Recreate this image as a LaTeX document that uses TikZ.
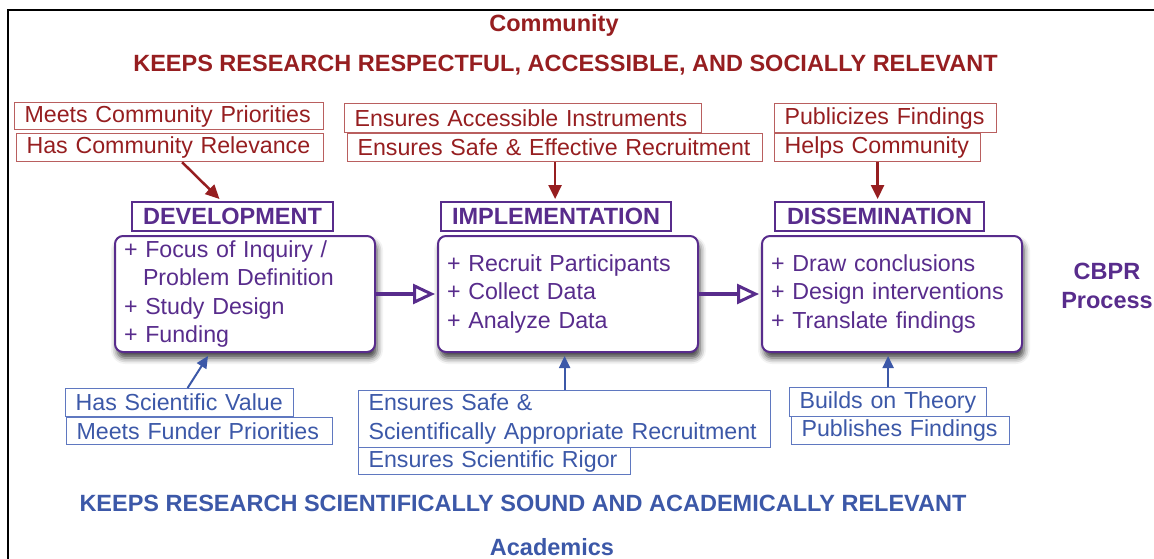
\documentclass[tikz,border=0pt]{standalone}
\usepackage{fontspec}
\setmainfont{Liberation Sans}
\usetikzlibrary{arrows.meta,calc,shadows.blur}
\definecolor{cred}{RGB}{150,30,32}
\definecolor{credb}{RGB}{185,95,95}
\definecolor{cpur}{RGB}{88,44,140}
\definecolor{cblue}{RGB}{60,88,168}
\definecolor{cblueb}{RGB}{95,120,192}
\newcommand{\bodyfnt}{\fontsize{23.2}{28.5}\selectfont}
\newcommand{\boldfnt}{\fontsize{23.5}{28.5}\selectfont\bfseries}
\hbadness=10000 \hfuzz=100pt
\begin{document}
\begin{tikzpicture}[x=1pt,y=-1pt,
  rbox/.style={draw=credb, line width=1.2pt, text=cred, font=\bodyfnt, align=left, inner xsep=10pt, inner ysep=0pt, anchor=north west},
  bbox/.style={draw=cblueb, line width=1.2pt, text=cblue, font=\bodyfnt, align=left, inner xsep=10pt, inner ysep=0pt, anchor=north west},
  hbox/.style={draw=cpur, line width=2pt, text=cpur, font=\boldfnt, inner sep=0pt, anchor=north west},
  mbox/.style={draw=cpur, line width=2pt, rounded corners=8pt, fill=white, text=cpur, font=\bodyfnt, align=left, inner xsep=9pt, inner ysep=0pt, minimum height=116pt, text width=242pt, anchor=north west, blur shadow={shadow xshift=2pt, shadow yshift=-6pt, shadow blur radius=6pt, shadow opacity=75}},
  rarrow/.style={draw=cred, line width=2.5pt, -{Triangle[length=14pt, width=13pt]}},
  barrow/.style={draw=cblue, line width=2pt, -{Triangle[length=12pt, width=11pt]}},
  flow/.style={draw=cpur, line width=4pt, -{Triangle[open, length=22pt, width=20pt, line width=3pt]}},
  rtitle/.style={text=cred, font=\boldfnt},
  btitle/.style={text=cblue, font=\boldfnt}
]
\useasboundingbox (0,0) rectangle (1154,559);
\draw[line width=2pt] (8,560) -- (8,10) -- (1156,10);

\node[rtitle] (comm) at (554,25) {Community};
\node[rtitle] (keep1) at (565.5,65) {KEEPS RESEARCH RESPECTFUL, ACCESSIBLE, AND SOCIALLY RELEVANT};
\node[btitle] (keep2) at (523,503) {KEEPS RESEARCH SCIENTIFICALLY SOUND AND ACADEMICALLY RELEVANT};
\node[btitle] (acad) at (552,547) {Academics};
\node[text=cpur, font=\boldfnt, align=center] (cbpr) at (1107,286) {CBPR\\Process};

% red boxes
\node[rbox, text width=289pt, minimum height=27pt] (R1) at (14,102) {\mbox{Meets Community Priorities}};
\node[rbox, text width=287pt, minimum height=28pt] (R2) at (16,133) {\mbox{Has Community Relevance}};
\node[rbox, text width=337pt, minimum height=29pt] (R3) at (344,103) {\mbox{Ensures Accessible Instruments}};
\node[rbox, text width=395pt, minimum height=28pt] (R4) at (347,133) {\mbox{Ensures Safe \& Effective Recruitment}};
\node[rbox, text width=202pt, minimum height=29pt] (R5) at (774,103) {\mbox{Publicizes Findings}};
\node[rbox, text width=186pt, minimum height=28pt] (R6) at (774,133) {\mbox{Helps Community}};

% headers
\node[hbox, minimum width=201pt, minimum height=29pt] (devh) at (131,201) {DEVELOPMENT};
\node[hbox, minimum width=230pt, minimum height=29pt] (implh) at (440,201) {IMPLEMENTATION};
\node[hbox, minimum width=209pt, minimum height=29pt] (dissh) at (774,201) {DISSEMINATION};

% main boxes
\node[mbox] (dev) at (114,235) {\mbox{+ Focus of Inquiry /}\\\mbox{\hspace{19pt}Problem Definition}\\\mbox{+ Study Design}\\\mbox{+ Funding}};
\node[mbox] (impl) at (437,235) {\mbox{+ Recruit Participants}\\\mbox{+ Collect Data}\\\mbox{+ Analyze Data}};
\node[mbox] (diss) at (761,235) {\mbox{+ Draw conclusions}\\\mbox{+ Design interventions}\\\mbox{+ Translate findings}};

% blue boxes
\node[bbox, text width=208pt, minimum height=28pt] (B1) at (65,388) {\mbox{Has Scientific Value}};
\node[bbox, text width=246pt, minimum height=27pt] (B2) at (66,417) {\mbox{Meets Funder Priorities}};
\node[bbox, text width=392pt, minimum height=57pt] (B3) at (358,390) {\mbox{Ensures Safe \&}\\\mbox{Scientifically Appropriate Recruitment}};
\node[bbox, text width=252pt, minimum height=27pt] (B4) at (358,447) {\mbox{Ensures Scientific Rigor}};
\node[bbox, text width=177pt, minimum height=29pt] (B5) at (789,387) {\mbox{Builds on Theory}};
\node[bbox, text width=198pt, minimum height=28pt] (B6) at (791,416) {\mbox{Publishes Findings}};

% arrows
\draw[rarrow] ($(R2.south)+(12,0)$) -- ($(devh.north)+(-13,-2)$);
\draw[rarrow] (R4.south) -- ($(R4.south |- implh.north)+(0,-2)$);
\draw[rarrow] (R6.south) -- ($(R6.south |- dissh.north)+(0,-2)$);
\draw[barrow] ($(B1.north)+(8,0)$) -- ($(dev.south)+(-37,3)$);
\draw[barrow] (B3.north) -- ($(B3.north |- impl.south)+(0,3)$);
\draw[barrow] (B5.north) -- ($(B5.north |- diss.south)+(0,3)$);
\draw[flow] (dev.east) -- ($(impl.west)+(-2,0)$);
\draw[flow] (impl.east) -- ($(diss.west)+(-2,0)$);
\end{tikzpicture}
\end{document}
